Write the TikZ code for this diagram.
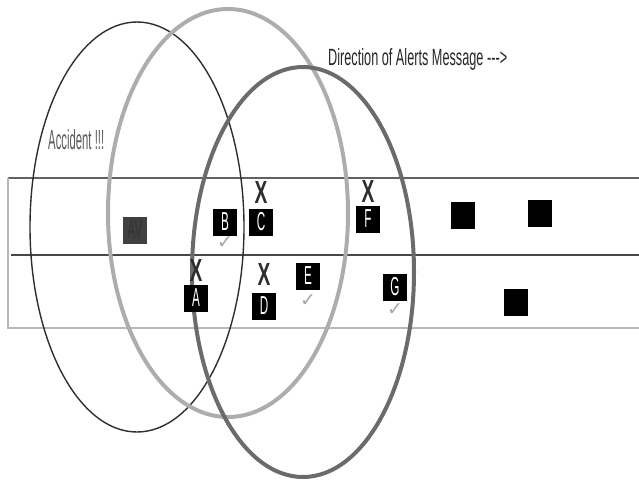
\documentclass[tikz,border=0pt]{standalone}
\usepackage{fontspec}
\setmainfont{Liberation Sans}
\newfontfamily\symbolfont{DejaVu Sans}
\usetikzlibrary{positioning}
\definecolor{thinring}{gray}{0.18}
\definecolor{lightring}{gray}{0.68}
\definecolor{darkring}{gray}{0.42}
\definecolor{roadedge}{gray}{0.38}
\definecolor{roadlow}{gray}{0.72}
\definecolor{avgray}{gray}{0.25}
\newcommand\narrowtext[2]{\scalebox{#1}[1]{#2}}
\tikzset{car/.style =
   {rectangle,
    fill=black,
    text=white,
    inner sep=0pt,
    minimum width=24pt,
    minimum height=27pt,
    font=\fontsize{26}{26}\selectfont}}
\tikzset{crossmark/.style =
   {inner sep=0pt,
    text=thinring,
    font=\fontsize{32}{32}\selectfont\bfseries}}
\tikzset{tickmark/.style =
   {inner sep=0pt,
    text=gray!70,
    font=\symbolfont\fontsize{19}{19}\selectfont}}
\tikzset{ring/.style = {line width=4pt}}

\begin{document}
\begin{tikzpicture}[x=1pt,y=-1pt]
    \useasboundingbox (0,0) rectangle (639,485);

    % road
    \draw[roadedge, line width=1.2pt] (639,178) -- (8,178);
    \draw[roadlow, line width=1.2pt] (8,178) -- (8,328) -- (639,328);
    \draw[black!72, line width=2.8pt] (11,255) -- (639,255);

    % ranges
    \draw[thinring, line width=1.4pt] (137,227) ellipse [x radius=107pt, y radius=205pt];
    \draw[ring, lightring] (228,213) ellipse [x radius=120pt, y radius=204pt];
    \draw[ring, darkring] (303,272) ellipse [x radius=111pt, y radius=205pt];

    % texts
    \node[anchor=west, inner sep=0pt, text=black!65] (accident) at (48,140)
        {\resizebox{56pt}{20pt}{Accident !!!}};
    \node[anchor=west, inner sep=0pt, text=black!85] (direction) at (328,59)
        {\resizebox{179pt}{17pt}{Direction of Alerts Message -{}-{}->}};

    % vehicles
    \node[car, fill=avgray, text=black!80] (av) at (135,230) {\narrowtext{0.45}{AV}};
    \node[car] (carB) at (225,222) {\narrowtext{0.45}{B}};
    \node[car] (carC) at (261,222) {\narrowtext{0.45}{C}};
    \node[car] (carF) at (368,219) {\narrowtext{0.45}{F}};
    \node[car] (carA) at (196,298) {\narrowtext{0.45}{A}};
    \node[car] (carD) at (264,306) {\narrowtext{0.45}{D}};
    \node[car] (carE) at (308,276) {\narrowtext{0.45}{E}};
    \node[car] (carG) at (395,287) {\narrowtext{0.45}{G}};
    \node[car] (car1) at (463,215) {};
    \node[car] (car2) at (540,213) {};
    \node[car] (car3) at (516,302) {};

    % not reached
    \node[crossmark, above=5pt of carC] (xC) {\narrowtext{0.6}{X}};
    \node[crossmark, above=3pt of carF] (xF) {\narrowtext{0.6}{X}};
    \node[crossmark, above=3pt of carA] (xA) {\narrowtext{0.6}{X}};
    \node[crossmark, above=7pt of carD] (xD) {\narrowtext{0.6}{X}};

    % reached
    \node[tickmark, below=1pt of carB] (okB) {✓};
    \node[tickmark, below=5pt of carE] (okE) {✓};
    \node[tickmark, below=3pt of carG] (okG) {✓};

\end{tikzpicture}
\end{document}
